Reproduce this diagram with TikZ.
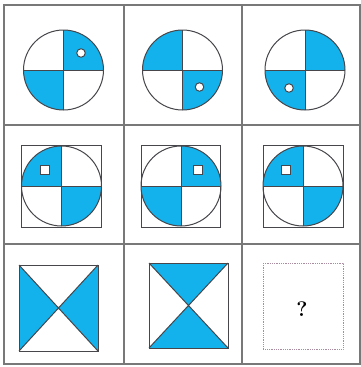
\documentclass[tikz,border=0pt]{standalone}
\usepackage{tikz}
\definecolor{qblue}{RGB}{20,178,236}
\definecolor{gridgray}{RGB}{120,120,120}
\definecolor{shapegray}{RGB}{70,70,75}
\definecolor{dotpink}{RGB}{170,140,160}
\tikzset{
  gridline/.style={draw=gridgray, line width=1.1pt},
  shapeline/.style={draw=shapegray, line width=1pt},
  bluefill/.style={fill=qblue},
  hole/.style={fill=white, draw=shapegray, line width=1pt},
}
\newcommand{\qpie}[3]{\fill[bluefill] (#1,#2) -- ++(#3:40) arc[start angle=#3, end angle=#3+90, radius=40] -- cycle;}
\newcommand{\qcircle}[2]{\draw[shapeline] (#1,#2) circle[radius=40];
  \draw[shapeline] (#1-40,#2) -- (#1+40,#2);
  \draw[shapeline] (#1,#2-40) -- (#1,#2+40);}
\begin{document}
\begin{tikzpicture}[x=1pt,y=-1pt]
\useasboundingbox (0,0) rectangle (361,367);
\fill[white] (0,0) rectangle (361,367);
% ---- row 1 ----
\qpie{63.5}{70}{-90}\qpie{63.5}{70}{90}
\qcircle{63.5}{70}
\node[circle, hole, minimum size=8.5pt, inner sep=0pt] (d1) at (81,53) {};
\qpie{182.5}{70}{-180}\qpie{182.5}{70}{0}
\qcircle{182.5}{70}
\node[circle, hole, minimum size=8.5pt, inner sep=0pt] (d2) at (199.5,87) {};
\qpie{305}{70}{-90}\qpie{305}{70}{90}
\qcircle{305}{70}
\node[circle, hole, minimum size=8.5pt, inner sep=0pt] (d3) at (289,88) {};
% ---- row 2 ----
\draw[shapeline] (21.5,145) rectangle (101.5,227);
\qpie{61.5}{186}{-180}\qpie{61.5}{186}{0}
\qcircle{61.5}{186}
\node[rectangle, hole, minimum size=9pt, inner sep=0pt] (s1) at (45,170) {};
\draw[shapeline] (141.5,145) rectangle (220.5,227);
\qpie{181}{186}{-90}\qpie{181}{186}{90}
\qcircle{181}{186}
\node[rectangle, hole, minimum size=9pt, inner sep=0pt] (s2) at (198,170) {};
\draw[shapeline] (263,145) rectangle (343,227);
\qpie{303}{186}{-180}\qpie{303}{186}{0}
\qcircle{303}{186}
\node[rectangle, hole, minimum size=9pt, inner sep=0pt] (s3) at (286,170) {};
% ---- row 3 ----
\coordinate (c1) at (58.5,308);
\fill[bluefill] (19,265) -- (c1) -- (19,351) -- cycle;
\fill[bluefill] (98,265) -- (c1) -- (98,351) -- cycle;
\draw[shapeline] (19,265) rectangle (98,351);
\draw[shapeline] (19,265) -- (98,351) (98,265) -- (19,351);
\coordinate (c2) at (188.5,305.5);
\fill[bluefill] (149,263) -- (c2) -- (228,263) -- cycle;
\fill[bluefill] (149,348) -- (c2) -- (228,348) -- cycle;
\draw[shapeline] (149,263) rectangle (228,348);
\draw[shapeline] (149,263) -- (228,348) (228,263) -- (149,348);
\draw[draw=dotpink, line width=0.8pt, densely dotted] (263,263) rectangle (343,349);
\node[font=\fontsize{21}{21}\selectfont\bfseries, inner sep=0pt] (q) at (302,309) {?};
% ---- grid ----
\draw[gridline] (4,5) rectangle (360,364);
\draw[gridline] (124,5) -- (124,364) (242,5) -- (242,364);
\draw[gridline] (4,125) -- (360,125) (4,244) -- (360,244);
\end{tikzpicture}
\end{document}
